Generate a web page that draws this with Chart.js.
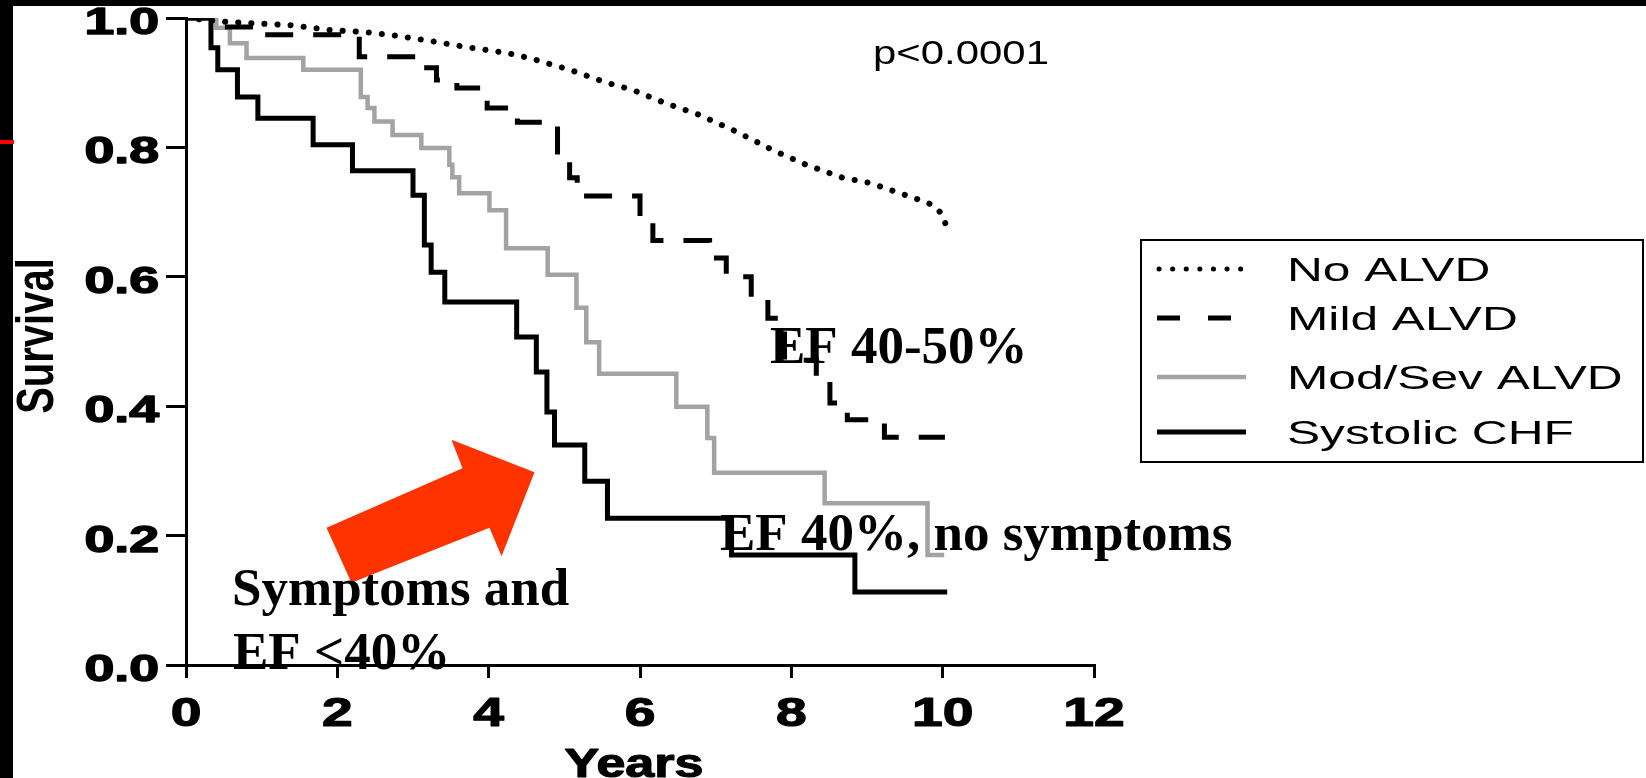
<!DOCTYPE html>
<html>
<head>
<meta charset="utf-8">
<script src="https://cdn.jsdelivr.net/npm/chart.js@4.4.1/dist/chart.umd.min.js"></script>
<style>
  html, body { margin: 0; padding: 0; background: #fff; }
  canvas { display: block; }
</style>
</head>
<body>
<canvas id="kmChart" width="1646" height="778"></canvas>
<script>
// survival curves: time in years, survival fraction
const noAlvdYears = [0, 0.54, 1.37, 1.94, 2.39, 2.82, 3.26, 3.71, 4.24, 4.54, 5.07, 5.56, 5.9, 6.3, 6.79, 7.28, 7.75, 8.2, 8.68, 9.04, 9.39, 9.69, 9.87, 10.0, 10.05];
const noAlvdSurv = [1.0, 0.994, 0.989, 0.981, 0.978, 0.972, 0.964, 0.955, 0.946, 0.938, 0.92, 0.9, 0.889, 0.87, 0.85, 0.824, 0.796, 0.773, 0.753, 0.745, 0.731, 0.719, 0.711, 0.696, 0.677];

const mildYears = [0, 0.51, 1.0, 2.29, 3.07, 3.31, 3.58, 3.98, 4.38, 4.91, 5.07, 5.17, 6.0, 6.17, 6.92, 7.14, 7.47, 7.69, 7.91, 8.33, 8.51, 8.74, 9.23, 10.03];
const mildSurv = [1.0, 0.986, 0.974, 0.94, 0.923, 0.904, 0.892, 0.861, 0.839, 0.777, 0.753, 0.725, 0.69, 0.656, 0.629, 0.6, 0.565, 0.536, 0.471, 0.445, 0.405, 0.379, 0.352, 0.352];

const modSevYears = [0, 0.4, 0.58, 0.8, 1.55, 2.31, 2.4, 2.49, 2.73, 3.11, 3.48, 3.52, 3.61, 4.01, 4.23, 4.78, 5.16, 5.29, 5.46, 6.48, 6.89, 6.98, 8.44, 9.8, 10.02];
const modSevSurv = [1.0, 0.985, 0.961, 0.938, 0.92, 0.878, 0.861, 0.84, 0.819, 0.799, 0.773, 0.754, 0.729, 0.703, 0.644, 0.603, 0.552, 0.499, 0.45, 0.399, 0.351, 0.297, 0.25, 0.17, 0.17];

const chfYears = [0, 0.33, 0.42, 0.68, 0.95, 1.68, 2.2, 3.0, 3.15, 3.24, 3.42, 4.37, 4.63, 4.77, 4.87, 5.27, 5.57, 7.21, 8.84, 10.06];
const chfSurv = [1.0, 0.954, 0.92, 0.878, 0.845, 0.804, 0.764, 0.726, 0.649, 0.607, 0.561, 0.507, 0.453, 0.391, 0.34, 0.284, 0.227, 0.17, 0.113, 0.113];

const seriesNames = ["No ALVD", "Mild ALVD", "Mod/Sev ALVD", "Systolic CHF"];
const xTickLabels = ["0", "2", "4", "6", "8", "10", "12"];
const yTickLabels = ["0.0", "0.2", "0.4", "0.6", "0.8", "1.0"];

// annotation arrow, in (years, survival)
const arrowYears = [1.857, 3.654, 3.509, 4.606, 4.17, 4.011, 2.187];
const arrowSurv = [0.212, 0.304, 0.348, 0.298, 0.168, 0.212, 0.127];

const GRAY = "#a3a3a3";
const ARIAL = '"Liberation Sans", Arial, sans-serif';
const TIMES = '"Liberation Serif", "Times New Roman", serif';

function toPoints(xs, ys) {
  return xs.map((x, i) => ({ x: x, y: ys[i] }));
}

// the source figure has its sans text widened, so draw it scaled in x
function wideText(ctx, txt, x, y, font, sx, align, heavy) {
  ctx.save();
  ctx.font = font;
  ctx.textAlign = align || "left";
  ctx.textBaseline = "alphabetic";
  ctx.fillStyle = "#000";
  ctx.translate(x, y);
  ctx.scale(sx, 1);
  ctx.fillText(txt, 0, 0);
  if (heavy) {
    ctx.strokeStyle = "#000";
    ctx.lineWidth = heavy;
    ctx.lineJoin = "round";
    ctx.strokeText(txt, 0, 0);
  }
  ctx.restore();
}

const decor = {
  id: "decor",
  beforeDraw(chart) {
    const ctx = chart.ctx;
    ctx.save();
    ctx.fillStyle = "#fff";
    ctx.fillRect(0, 0, chart.width, chart.height);
    ctx.restore();
  },
  afterDatasetsDraw(chart) {
    const ctx = chart.ctx;
    const xs = chart.scales.x, ys = chart.scales.y;
    ctx.save();
    ctx.fillStyle = "#ff3300";
    ctx.beginPath();
    arrowYears.forEach((t, i) => {
      const px = xs.getPixelForValue(t), py = ys.getPixelForValue(arrowSurv[i]);
      if (i === 0) ctx.moveTo(px, py); else ctx.lineTo(px, py);
    });
    ctx.closePath();
    ctx.fill();
    ctx.restore();
  },
  afterDraw(chart) {
    const ctx = chart.ctx;
    const xs = chart.scales.x, ys = chart.scales.y;

    // tick labels
    yTickLabels.forEach((lab) => {
      wideText(ctx, lab, 159, ys.getPixelForValue(parseFloat(lab)) + 16, "bold 37px " + ARIAL, 1.45, "right", 1.4);
    });
    xTickLabels.forEach((lab) => {
      wideText(ctx, lab, xs.getPixelForValue(parseFloat(lab)), 726, "bold 40px " + ARIAL, 1.38, "center", 1.2);
    });

    // axis titles
    wideText(ctx, "Years", 634, 777, "bold 40px " + ARIAL, 1.3, "center", 1.2);
    ctx.save();
    ctx.font = "bold 40px " + ARIAL;
    ctx.fillStyle = "#000";
    ctx.textAlign = "center";
    ctx.textBaseline = "alphabetic";
    ctx.translate(53, 336);
    ctx.rotate(-Math.PI / 2);
    ctx.scale(1, 1.3);
    ctx.fillText("Survival", 0, 0);
    ctx.restore();

    wideText(ctx, "p<0.0001", 873, 64, "33px " + ARIAL, 1.27, "left");

    // legend box
    ctx.save();
    ctx.strokeStyle = "#000";
    ctx.lineWidth = 2;
    ctx.strokeRect(1141, 240, 502, 222);
    const rows = [269, 318, 377, 432];
    const sampleDash = [[0.1, 13.5], [23, 28], [], []];
    chart.data.datasets.forEach((ds, i) => {
      ctx.save();
      ctx.strokeStyle = ds.borderColor;
      ctx.lineWidth = i === 0 ? 5 : ds.borderWidth;
      ctx.lineCap = i === 0 ? "round" : "butt";
      ctx.setLineDash(sampleDash[i]);
      ctx.beginPath();
      ctx.moveTo(i === 0 ? 1159 : 1157, rows[i]);
      ctx.lineTo(1246, rows[i]);
      ctx.stroke();
      ctx.restore();
      wideText(ctx, ds.label, 1287, rows[i] + 12, "34px " + ARIAL, 1.46, "left");
    });
    ctx.restore();

    // slide annotations
    ctx.save();
    ctx.font = "bold 53px " + TIMES;
    ctx.fillStyle = "#000";
    ctx.textBaseline = "alphabetic";
    ctx.fillText("EF 40-50%", 770, 363);
    ctx.fillText("EF 40%, no symptoms", 720, 550);
    ctx.fillText("Symptoms and", 232, 605);
    ctx.fillText("EF <40%", 233, 669);
    ctx.restore();

    // slide frame: black bands over the top and left edges, small red mark
    ctx.save();
    ctx.fillStyle = "#000";
    ctx.fillRect(0, 0, chart.width, 6);
    ctx.fillRect(0, 0, 13, chart.height);
    ctx.fillStyle = "#ff0000";
    ctx.fillRect(0, 140, 14, 4);
    ctx.restore();
  }
};

const ctx = document.getElementById("kmChart").getContext("2d");
const myChart = new Chart(ctx, {
  type: "line",
  data: {
    datasets: [
      {
        label: seriesNames[0],
        data: toPoints(noAlvdYears, noAlvdSurv),
        borderColor: "#000",
        borderWidth: 6,
        borderDash: [0.1, 13],
        borderCapStyle: "round",
        pointRadius: 0,
        tension: 0,
      },
      {
        label: seriesNames[1],
        data: toPoints(mildYears, mildSurv),
        borderColor: "#000",
        borderWidth: 5,
        borderDash: [28, 20],
        stepped: "before",
        pointRadius: 0,
      },
      {
        label: seriesNames[2],
        data: toPoints(modSevYears, modSevSurv),
        borderColor: GRAY,
        borderWidth: 4.5,
        stepped: "before",
        pointRadius: 0,
      },
      {
        label: seriesNames[3],
        data: toPoints(chfYears, chfSurv),
        borderColor: "#000",
        borderWidth: 5,
        stepped: "before",
        pointRadius: 0,
      },
    ],
  },
  options: {
    responsive: false,
    animation: false,
    layout: {
      padding: { left: 166, top: 18, right: 552, bottom: 100 },
    },
    plugins: {
      legend: { display: false },
      tooltip: { enabled: false },
    },
    scales: {
      x: {
        type: "linear",
        min: 0,
        max: 12,
        ticks: { stepSize: 2, display: false },
        grid: { drawOnChartArea: false, drawTicks: true, tickLength: 13, color: "#000", lineWidth: 3 },
        border: { display: true, color: "#000", width: 3 },
      },
      y: {
        min: 0,
        max: 1,
        ticks: { stepSize: 0.2, display: false },
        grid: { drawOnChartArea: false, drawTicks: true, tickLength: 20, color: "#000", lineWidth: 3 },
        border: { display: true, color: "#000", width: 3 },
      },
    },
  },
  plugins: [decor],
});
</script>
</body>
</html>
